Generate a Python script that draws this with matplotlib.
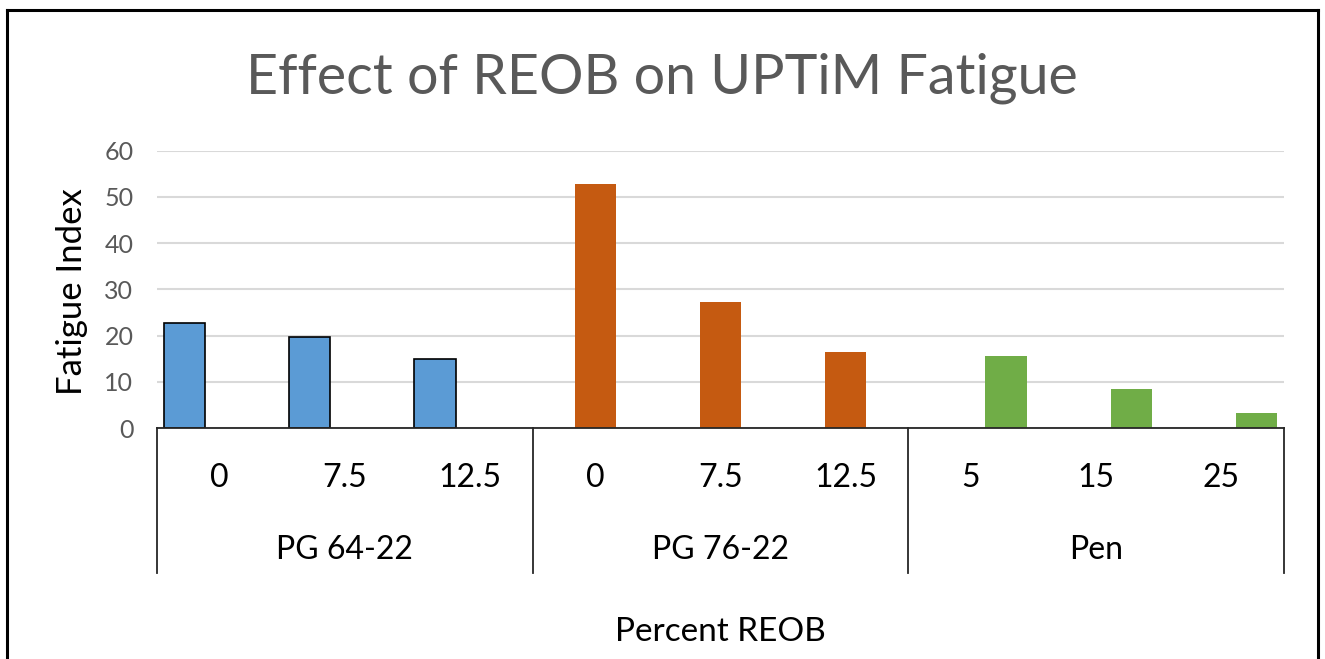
import matplotlib
matplotlib.use("Agg")
import matplotlib.pyplot as plt
from matplotlib.lines import Line2D

plt.rcParams['font.family'] = ['Lato', 'DejaVu Sans']

# ---- data ----
groups = ["PG 64-22", "PG 76-22", "Pen"]
categories = [["0", "7.5", "12.5"], ["0", "7.5", "12.5"], ["5", "15", "25"]]
pg6422 = [22.8, 19.6, 15.0]
pg7622 = [52.9, 27.3, 16.5]
pen = [15.5, 8.5, 3.2]
series_values = [pg6422, pg7622, pen]
series_colors = ["#5B9BD5", "#C55A11", "#70AD47"]
series_edges = ["#000000", "none", "none"]
yticks = [0, 10, 20, 30, 40, 50, 60]

W, H = 1325, 659
fig = plt.figure(figsize=(W / 100, H / 100), dpi=100)
fig.patch.set_facecolor("white")

# frame border around the picture (no bottom edge)
for xs, ys in [([7, 1318], [H - 10, H - 10]), ([1318, 1318], [H - 10, 0]), ([7, 7], [H - 10, 0])]:
    fig.add_artist(Line2D([x / W for x in xs], [y / H for y in ys], color="black", lw=2.2,
                          transform=fig.transFigure))

left, right, y0, y60 = 157, 1284, 428, 150.7
ax = fig.add_axes([left / W, (H - y0) / H, (right - left) / W, (y0 - y60) / H])
ax.set_xlim(-0.5, 8.5)
ax.set_ylim(0, 60)

ncat = 3
width = 0.33
offset = 0.28
for g, vals in enumerate(series_values):
    xs = [g * ncat + i + (g - 1) * offset for i in range(ncat)]
    ax.bar(xs, vals, width=width, color=series_colors[g],
           edgecolor=series_edges[g], linewidth=1.2 if series_edges[g] != "none" else 0,
           zorder=3)

ax.set_yticks(yticks)
ax.set_yticklabels([str(t) for t in yticks], fontsize=18, color="#595959")
ax.tick_params(axis="y", length=0, pad=17)
ax.tick_params(axis="x", length=0, labelbottom=False)
ax.yaxis.grid(True, color="#D9D9D9", lw=1.5, zorder=0)
for s in ["top", "right", "left"]:
    ax.spines[s].set_visible(False)
ax.spines["bottom"].set_color("#262626")
ax.spines["bottom"].set_linewidth(1.3)
ax.spines["bottom"].set_zorder(4)

# multi-level category axis
trans = ax.get_xaxis_transform()
ph = y0 - y60
cat_y = -(478 - y0) / ph
grp_y = -(550 - y0) / ph
sep_y = -(573 - y0) / ph
for g, grp in enumerate(groups):
    for i, lab in enumerate(categories[g]):
        ax.text(g * ncat + i, cat_y, lab, transform=trans, ha="center", va="center",
                fontsize=23, color="black", clip_on=False)
    ax.text(g * ncat + 1, grp_y, grp, transform=trans, ha="center", va="center",
            fontsize=23, color="black", clip_on=False)
for b in range(len(groups) + 1):
    xb = b * ncat - 0.5
    ax.add_line(Line2D([xb, xb], [0, sep_y], transform=trans, color="#262626", lw=1.3,
                       clip_on=False))

fig.text(72 / W, 1 - 292 / H, "Fatigue Index", rotation=90, ha="center", va="center",
         fontsize=25, color="black")
fig.text(720 / W, 1 - 632 / H, "Percent REOB", ha="center", va="center", fontsize=24, color="black")
fig.text(662 / W, 1 - 78 / H, "Effect of REOB on UPTiM Fatigue", ha="center", va="center",
         fontsize=40, color="#595959")

fig.savefig("out.png", dpi=100, facecolor="white")
